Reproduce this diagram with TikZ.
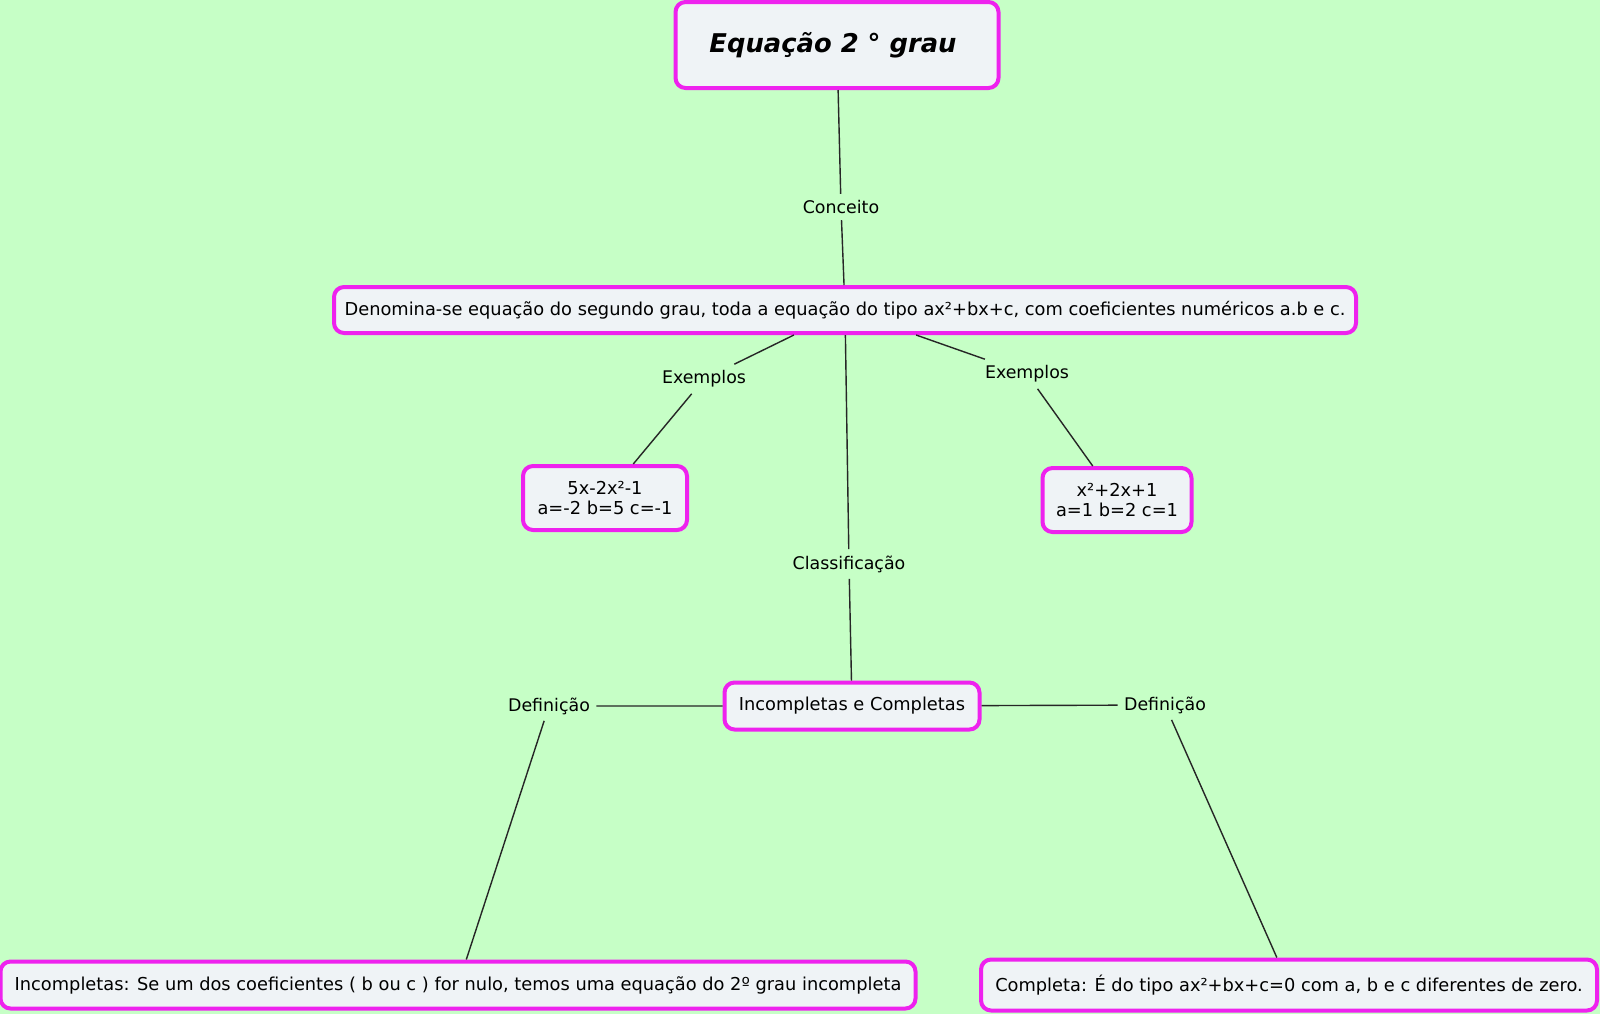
\documentclass[tikz,border=0pt]{standalone}
\usepackage{fontspec}
\setmainfont{DejaVu Sans}
\usetikzlibrary{positioning}
\definecolor{bgmint}{HTML}{C6FFC6}
\definecolor{boxfill}{HTML}{EFF3F6}
\definecolor{boxedge}{HTML}{EE22EE}
\begin{document}
\begin{tikzpicture}[x=0.5pt,y=-0.5pt,line join=round,
  topic/.style={draw=boxedge,line width=2pt,fill=boxfill,rounded corners=5pt,align=center,inner sep=0pt,font=\fontsize{8.9}{10.4}\selectfont},
  linklabel/.style={inner sep=3pt,font=\fontsize{8.7}{10}\selectfont},
  link/.style={draw=black!85,line width=0.7pt}]
% --- background and margins
\fill[bgmint] (0,0) rectangle (1600,1014);
\useasboundingbox (0,0) rectangle (1600,1014);
% --- boxes
\node[topic,minimum width=161.5pt,minimum height=43pt,font=\fontsize{12.9}{14}\selectfont\bfseries\itshape] (title) at (837,45) {Equação 2 ° grau\hspace{4pt}};
\node[topic,minimum width=511pt,minimum height=23pt] (defn) at (845,310) {Denomina-se equação do segundo grau, toda a equação do tipo ax²+bx+c, com coeficientes numéricos a.b e c.};
\node[topic,minimum width=82pt,minimum height=32pt] (exleft) at (605,498) {5x-2x²-1\\a=-2 b=5 c=-1};
\node[topic,minimum width=74.5pt,minimum height=32pt] (exright) at (1117,500) {x²+2x+1\\a=1 b=2 c=1};
\node[topic,minimum width=127.5pt,minimum height=23.5pt] (kinds) at (852,706) {Incompletas e Completas};
\node[topic,minimum width=457.5pt,minimum height=23.5pt] (incomp) at (458,985) {Incompletas: Se um dos coeficientes ( b ou c ) for nulo, temos uma equação do 2º grau incompleta};
\node[topic,minimum width=308pt,minimum height=25.5pt] (comp) at (1289,985) {Completa: É do tipo ax²+bx+c=0 com a, b e c diferentes de zero.};
% --- link labels
\node[linklabel] (lconc) at (841,207) {Conceito};
\node[linklabel] (lexl) at (704,379) {Exemplos};
\node[linklabel] (lexr) at (1027,374) {Exemplos};
\node[linklabel] (lclass) at (849,564) {Classificação};
\node[linklabel] (ldefl) at (549,706) {Definição};
\node[linklabel] (ldefr) at (1165,705) {Definição};
% --- connectors
\draw[link] (title) -- (lconc) (lconc) -- (defn);
\draw[link] (defn) -- (lexl) (lexl) -- (exleft);
\draw[link] (defn) -- (lexr) (lexr) -- (exright);
\draw[link] (defn) -- (lclass) (lclass) -- (kinds);
\draw[link] (kinds) -- (ldefl) (ldefl) -- (incomp);
\draw[link] (kinds) -- (ldefr) (ldefr) -- (comp);
\end{tikzpicture}
\end{document}
